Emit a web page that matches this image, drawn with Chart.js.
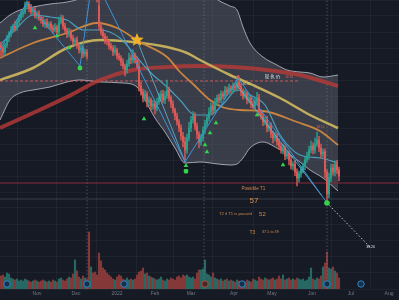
<!DOCTYPE html>
<html><head><meta charset="utf-8">
<script src="https://cdn.jsdelivr.net/npm/chart.js@4.4.1/dist/chart.umd.min.js"></script>
<style>html,body{margin:0;padding:0;background:#151a25;overflow:hidden}canvas{display:block}</style>
</head><body><canvas id="c" width="399" height="300"></canvas>
<script>
// ---- data (x = trading-day index, y = price) ----
const tickPos = [18, 37.5, 58, 77, 95, 116.5, 135.5, 155.5, 175, 194];
const tickLabels = ['Nov', 'Dec', '2022', 'Feb', 'Mar', 'Apr', 'May', 'Jun', 'Jul', 'Aug'];

const closes = [
 88,87,88.75,90.5,91.5,92.5,93.5,93,94.5,95.5,
 96.5,97,98.5,99,98,97,97.5,96,96.5,95.5,
 95,94,94.5,93.5,94,93,92.5,93.2,92,94.5,
 95.5,93.5,92.5,91.5,92,90.5,89.5,90,88.5,87.5,
 88,86.5,87,86,105,106.2,105.5,104.5,100.5,93.5,
 92,91,90,89.5,88.5,88,87,87.5,86,85.5,
 84.5,83.5,82.5,84,85.5,85,86.2,85,83.5,78.5,
 77,75.5,76.5,74.5,75,73.5,74,73,74.5,75.5,
 76.5,75,76,77.5,75.5,74,72.5,71,69.5,68,
 66,64.5,62.5,65.5,68,70,71,68.5,66.5,64.5,
 65.5,67.5,69,70.5,72,73.5,72.5,74.5,75.5,75,
 76.5,76,77.5,77,78,77.5,78.5,78,79.5,78.5,
 77,76,76.5,75,75.5,74,73.5,74.5,75.5,72,
 71,69.5,70,68,68.5,66.5,65.5,66,64.5,63.5,
 62.5,63,61,61.5,60,58.5,59,57,55.5,56.5,
 57.5,58.5,60,61,62.5,63.5,62.5,64,65,63,
 61.5,62,57,51.5,55.5,58,57,59,57.5,56];
const firstOpen = 88.5;
const gapOpens = {44: 106.5, 49: 98.5};
const wickHi = [
 1.0,0.8,0.5,0.7,0.6,0.9,0.5,1.2,0.6,0.8,
 0.7,0.5,1.0,0.8,0.6,0.9,0.5,0.7,0.6,0.8,
 0.5,0.7,0.6,0.8,0.5,0.6,0.7,0.9,0.5,1.2,
 0.8,0.6,0.7,0.5,0.9,0.6,0.7,0.5,0.8,0.6,
 0.9,0.5,0.7,0.6,1.5,1.2,1.0,1.3,1.8,1.5,
 1.0,0.8,0.6,0.9,0.5,0.7,0.6,1.1,0.5,0.7,
 0.6,0.8,0.5,1.0,1.2,0.7,1.4,0.6,0.8,1.5,
 0.9,0.7,1.0,0.6,0.8,0.5,0.9,0.7,1.0,1.2,
 0.8,0.9,1.1,2.5,0.7,0.6,0.8,0.5,0.7,0.6,
 0.8,0.9,1.2,1.0,1.4,0.9,1.1,0.8,0.7,0.6,
 1.0,0.8,0.9,0.7,1.1,0.8,0.6,0.9,0.7,1.0,
 0.8,0.6,0.9,0.7,1.0,0.6,0.8,0.7,1.2,0.9,
 0.7,0.8,1.0,0.6,0.9,0.7,0.8,1.0,1.4,0.9,
 0.6,0.8,0.7,1.0,0.6,0.8,0.7,0.9,0.6,0.8,
 0.7,1.0,0.6,0.8,0.7,0.9,0.6,1.0,0.8,0.7,
 0.9,0.7,0.8,1.0,0.9,1.2,0.8,1.5,2.0,0.9,
 1.0,0.8,0.7,0.6,1.2,0.9,1.0,0.8,0.9,0.7];
const wickLo = [
 2.0,1.2,0.8,0.6,0.9,0.7,0.5,0.8,0.6,0.7,
 0.6,0.8,0.5,0.7,0.9,0.6,0.8,0.5,0.7,0.6,
 0.8,0.6,0.9,0.5,0.7,0.6,0.8,0.5,0.9,0.6,
 0.5,0.8,0.6,0.9,0.7,0.6,0.8,0.9,0.6,0.8,
 0.7,0.9,0.6,0.8,1.0,1.2,0.9,1.1,1.0,1.0,
 0.8,0.6,0.9,0.7,0.8,0.6,0.9,0.7,0.8,0.6,
 0.9,0.7,1.5,0.8,0.6,0.9,0.7,0.8,0.6,1.2,
 0.8,1.0,0.7,1.2,0.9,1.0,0.8,1.5,0.7,0.6,
 0.8,0.7,0.9,0.6,0.8,0.9,0.7,1.0,0.8,0.9,
 1.0,1.2,2.5,0.8,0.7,0.9,0.8,1.0,1.2,1.5,
 0.8,0.7,0.9,0.6,0.8,0.7,1.0,0.6,0.8,0.7,
 0.6,0.8,0.7,0.9,0.6,0.8,0.7,0.6,0.8,0.7,
 0.9,0.8,0.6,1.0,0.7,0.9,0.8,0.6,0.7,1.0,
 0.8,0.9,0.7,1.0,0.8,0.9,1.2,0.7,0.8,0.9,
 0.8,1.0,0.9,0.7,1.2,0.8,1.0,0.9,2.0,1.0,
 0.8,0.7,0.9,0.6,0.8,0.7,1.0,0.8,0.6,0.9,
 1.0,0.8,1.5,2.4,1.0,0.9,0.8,1.0,0.9,1.2];
const volumes = [
 1.3,1.4,1.2,1.6,1.5,1.1,1.0,0.9,1.0,0.8,
 0.9,0.8,1.0,0.9,0.8,0.7,0.8,0.9,0.8,0.7,
 0.8,0.9,0.8,0.7,0.8,0.7,0.9,0.8,0.7,1.0,
 1.1,0.9,0.8,1.0,1.2,1.1,1.5,2.9,1.8,1.2,
 1.0,1.3,1.1,1.0,5.7,2.2,1.6,1.7,1.4,3.6,
 2.8,2.1,1.9,1.6,1.4,1.2,1.0,0.9,1.2,1.4,
 1.3,1.0,0.9,1.1,0.9,1.0,0.9,1.0,1.4,1.7,
 1.8,2.1,1.5,1.6,1.3,1.2,1.1,1.0,0.9,1.0,
 1.2,0.9,0.8,1.0,0.9,1.1,1.0,0.9,1.2,1.3,
 1.1,1.4,1.3,1.4,1.2,1.1,1.2,1.0,1.6,1.9,
 1.9,2.0,2.9,1.5,1.4,1.2,1.6,1.1,1.0,0.9,
 1.0,0.8,0.9,1.0,0.8,0.9,0.8,0.7,0.9,0.8,
 0.7,0.8,0.7,0.9,0.8,0.7,1.0,0.9,0.8,1.2,
 1.0,0.9,1.1,1.0,0.9,1.0,1.1,0.9,1.0,1.3,
 1.0,1.4,0.9,1.0,1.1,0.9,1.0,0.9,1.1,1.0,
 0.9,1.0,0.8,0.9,1.2,2.1,1.0,0.9,1.1,1.0,
 1.3,2.2,2.6,3.7,2.1,2.0,2.2,1.8,1.6,1.1];

const bandX = [-0.5,4.5,9.5,16,24.5,33,39.5,49.5,61,68,72,77,82,87,92,99.5,108.5,114.5,118,121,124.5,131,138,143,149.5,154.5,161,168.5];
const bandUpper = [94.25,96.25,97.5,98.25,99,99.5,100.5,105,107,107.5,107.5,107.5,107,106.25,105,103.75,100,98.5,97.5,93.25,89.25,85.75,83.75,82.5,82,81.75,80.75,81.25];
const bandLower = [70,75,76.75,77.5,78.25,79.5,80,79.5,79.25,78.25,75,70.5,67,63,59.25,59.5,59,58.75,59,60.5,63,64.5,63,61.75,59.5,57.5,55.5,52.25];

const ma200 = [[-0.5,68],[16,71.75],[33,75.75],[49.5,80],[66,82.5],[83,83.25],[99.5,83.5],[116,83.25],[133,82.5],[149.5,81.25],[168.5,78.5]];
const ma100 = [[-0.5,80],[16,83],[33,88],[49.5,90],[66,89.5],[83,88.25],[93,86.75],[99.5,85],[114.5,81.25],[127,78.5],[139.5,75.5],[154.5,71.25],[168.5,68]];
const ma50 = [[-0.5,85.5],[16,89.25],[33,91.75],[48,94.25],[58,93],[69.5,89.5],[83,85.75],[89.5,82],[96,79],[104.5,75],[110.5,73.25],[119.5,72.5],[131,72.25],[148,69.5],[159.5,67.25],[168.5,63.75]];
const ma20 = [[-0.5,88.75],[7,92.5],[16,96.25],[24.5,95.75],[33,95],[41,92.5],[49.5,92.5],[59.5,90.5],[67,86.25],[74.5,82],[83,78.25],[89.5,75],[97,71.25],[104.5,71.25],[112,74.5],[118,77.5],[124.5,76.25],[132,73.75],[139.5,66.25],[149.5,61.25],[159.5,60.5],[168.5,59.25]];

const zigzag = [[-0.5,87.5],[13,99.5],[39.5,83.5],[46,106.25],[92,59.5],[118.5,80.5],[163,49.25]];
const zigzag2 = [[68,90],[92,59.5],[100,null],[117.5,79],[160.5,51]];
const projection = [[163,49.25],[184.5,38.25]];
const resistance = 79.75, resistanceEnd = 149.5;
const supportA = 54.25, supportB = 50.25;
const eventLines = [43, 101.5, 163];

const upSignals = [[17,93],[28,91],[34,88],[71.5,70.25],[92.5,58.6],[102,63.75],[103,62],[104.5,66.75],[107.5,69.25],[128,71.25],[141,58.75]];
const squareSignals = [[39.5,83],[92.5,57.2]];
const circleSignal = [[163,49.25]];
const peakMark = [[118.5,80.8]];
const starPoint = [[68,90]];
const eventIcons = [3,43,61.5,120.5,163,180];
const eventIconsRed = [102];

const notes = [
 {t:'Possible T1', x:126.2, y:52.7, s:4.6, c:'#cf8a4a'},
 {t:'57', x:126.5, y:49.75, s:8, c:'#d8904e'},
 {t:'T2 if T1 is passed', x:117.2, y:46.5, s:4.2, c:'#cf8a4a'},
 {t:'52', x:130.7, y:46.5, s:6, c:'#cf8a4a'},
 {t:'T3', x:125.7, y:41.9, s:5, c:'#cf8a4a'},
 {t:'37.5 to 39', x:134.7, y:41.9, s:3.8, c:'#cf8a4a'},
 {t:'现 执 价', x:135.8, y:81, s:4.5, c:'#d6d6dc', f:"'Noto Sans CJK SC', sans-serif"},
 {t:'80.40', x:122.8, y:78.9, s:3, c:'#e6d27a'},
 {t:'82.35', x:144.2, y:80.8, s:3, c:'#e0625a'},
 {t:'68.10', x:159.8, y:68.1, s:3, c:'#e0625a'},
 {t:'38.20', x:184.8, y:38.3, s:3.5, c:'#e8e8ee'}
];

// ---- build ----
const opens = closes.map((c, i) => gapOpens[i] !== undefined ? gapOpens[i] : (i === 0 ? firstOpen : closes[i - 1]));
const UP = '#2a9e8c', DN = '#dc5a55';
const isUp = closes.map((c, i) => c >= opens[i]);
const bodies = closes.map((c, i) => ({x: i, y: [opens[i], c]}));
const wicks = closes.map((c, i) => ({x: i, y: [Math.min(opens[i], c) - wickLo[i], Math.max(opens[i], c) + wickHi[i]]}));
const vols = volumes.map((v, i) => ({x: i, y: v}));
const pts = a => a.map(p => ({x: p[0], y: p[1]}));

function makeStar(size, color) {
  const c = document.createElement('canvas'); c.width = c.height = size;
  const g = c.getContext('2d'); g.fillStyle = color; g.beginPath();
  for (let k = 0; k < 10; k++) {
    const r = k % 2 === 0 ? size / 2 : size / 4.4;
    const a = -Math.PI / 2 + k * Math.PI / 5;
    g.lineTo(size / 2 + r * Math.cos(a), size / 2 + r * Math.sin(a));
  }
  g.closePath(); g.fill(); return c;
}

const vLines = [];
eventLines.forEach(v => { vLines.push({x: v, y: 27.75}, {x: v, y: 100}, {x: v, y: null}); });

const smooth = {pointRadius: 0, cubicInterpolationMode: 'monotone', fill: false};
const datasets = [
  {type: 'line', data: bandX.map((x, k) => ({x, y: bandLower[k]})), borderColor: 'rgba(215,215,225,0.7)', borderWidth: 1, order: 30, ...smooth},
  {type: 'line', data: bandX.map((x, k) => ({x, y: bandUpper[k]})), borderColor: 'rgba(215,215,225,0.7)', borderWidth: 1, order: 30, pointRadius: 0, cubicInterpolationMode: 'monotone', fill: {target: 0}, backgroundColor: 'rgba(112,115,128,0.40)'},
  {type: 'bar', data: vols, yAxisID: 'yv', grouped: false, barThickness: 1.5, backgroundColor: isUp.map(u => u ? 'rgba(42,125,115,0.8)' : 'rgba(150,62,60,0.85)'), order: 28},
  {type: 'line', data: [{x: -0.5, y: supportA}, {x: 199, y: supportA}], borderColor: 'rgba(120,40,55,0.6)', borderWidth: 2, pointRadius: 0, order: 27},
  {type: 'line', data: [{x: -0.5, y: supportB}, {x: 199, y: supportB}], borderColor: 'rgba(140,145,158,0.3)', borderWidth: 1, pointRadius: 0, order: 27},
  {type: 'line', data: vLines, borderColor: 'rgba(120,135,150,0.5)', borderWidth: 1, borderDash: [1.5, 2], pointRadius: 0, spanGaps: false, order: 26},
  {type: 'line', data: [{x: -0.5, y: resistance}, {x: resistanceEnd, y: resistance}], borderColor: 'rgba(230,95,90,0.8)', borderWidth: 1, borderDash: [3, 2], pointRadius: 0, order: 25},
  {type: 'line', data: pts(ma200), borderColor: 'rgba(185,58,56,0.8)', borderWidth: 4, order: 20, ...smooth},
  {type: 'line', data: pts(ma100), borderColor: '#c2ad5c', borderWidth: 2.5, order: 19, ...smooth},
  {type: 'line', data: pts(ma50), borderColor: '#c98440', borderWidth: 1.8, order: 18, ...smooth},
  {type: 'line', data: pts(ma20), borderColor: '#4a9fbe', borderWidth: 1.2, order: 17, ...smooth},
  {type: 'bar', data: wicks, grouped: false, barThickness: 0.8, backgroundColor: isUp.map(u => u ? UP : DN), order: 10},
  {type: 'bar', data: bodies, grouped: false, barThickness: 1.4, backgroundColor: isUp.map(u => u ? UP : DN), order: 9},
  {type: 'line', data: pts(zigzag), borderColor: '#3f93d6', borderWidth: 1, pointRadius: 0, tension: 0, order: 6},
  {type: 'line', data: pts(zigzag2), borderColor: 'rgba(100,185,220,0.8)', borderWidth: 1, pointRadius: 0, tension: 0, spanGaps: false, order: 6},
  {type: 'line', data: pts(projection), borderColor: 'rgba(225,230,240,0.85)', borderWidth: 1, borderDash: [1.5, 2], pointRadius: 0, order: 6},
  {type: 'line', data: eventIcons.map(x => ({x, y: 0.5})), yAxisID: 'yv', showLine: false, pointStyle: 'circle', pointRadius: 3.2, pointBackgroundColor: '#173049', pointBorderColor: '#2f86c8', pointBorderWidth: 1, order: 4},
  {type: 'line', data: eventIconsRed.map(x => ({x, y: 0.5})), yAxisID: 'yv', showLine: false, pointStyle: 'circle', pointRadius: 3.2, pointBackgroundColor: '#4a2626', pointBorderColor: '#a9503e', pointBorderWidth: 1, order: 4},
  {type: 'line', data: pts(upSignals), showLine: false, pointStyle: 'triangle', pointRadius: 2.7, pointBackgroundColor: '#35d24b', pointBorderColor: '#35d24b', pointBorderWidth: 0, order: 2},
  {type: 'line', data: pts(squareSignals), showLine: false, pointStyle: 'rectRounded', pointRadius: 2.6, pointBackgroundColor: '#35d24b', pointBorderColor: '#35d24b', pointBorderWidth: 0, order: 2},
  {type: 'line', data: pts(circleSignal), showLine: false, pointStyle: 'circle', pointRadius: 2.8, pointBackgroundColor: '#35d24b', pointBorderColor: '#35d24b', pointBorderWidth: 0, order: 2},
  {type: 'line', data: pts(peakMark), showLine: false, pointStyle: 'rect', pointRadius: 2, pointBackgroundColor: '#f05a55', pointBorderColor: '#f05a55', pointBorderWidth: 0, order: 2},
  {type: 'line', data: pts(starPoint), showLine: false, pointStyle: makeStar(14, '#f0b02c'), pointRadius: 7, order: 1}
];

const notesPlugin = {
  id: 'notes',
  afterDatasetsDraw(chart) {
    const {ctx, scales: {x, y}} = chart;
    ctx.save();
    notes.forEach(n => {
      ctx.font = `${n.s}px ${n.f || "'Liberation Sans', Arial, sans-serif"}`;
      ctx.fillStyle = n.c; ctx.textAlign = 'center'; ctx.textBaseline = 'middle';
      ctx.fillText(n.t, x.getPixelForValue(n.x), y.getPixelForValue(n.y));
    });
    ctx.restore();
  }
};

Chart.defaults.font.family = "'Liberation Sans', Arial, sans-serif";
new Chart(document.getElementById('c'), {
  type: 'bar',
  data: {datasets},
  plugins: [notesPlugin],
  options: {
    responsive: false, animation: false, devicePixelRatio: 1,
    layout: {padding: 0, autoPadding: false},
    plugins: {legend: {display: false}, tooltip: {enabled: false}},
    scales: {
      x: {
        type: 'linear', min: -0.5, max: 199, offset: false,
        afterBuildTicks: s => { s.ticks = tickPos.map(v => ({value: v})); },
        afterFit: s => { s.height = 11; },
        ticks: {callback: (v, i) => tickLabels[i], color: '#747884', font: {size: 5}, padding: 2, maxRotation: 0, autoSkip: false},
        grid: {color: 'rgba(255,255,255,0.045)', drawTicks: false},
        border: {display: false}
      },
      y: {
        type: 'linear', position: 'right', min: 27.75, max: 100,
        afterFit: s => { s.width = 0; },
        ticks: {display: false, stepSize: 4},
        grid: {color: 'rgba(255,255,255,0.035)', drawTicks: false},
        border: {display: false}
      },
      yv: {type: 'linear', display: false, min: 0, max: 28.9}
    }
  }
});
</script></body></html>
